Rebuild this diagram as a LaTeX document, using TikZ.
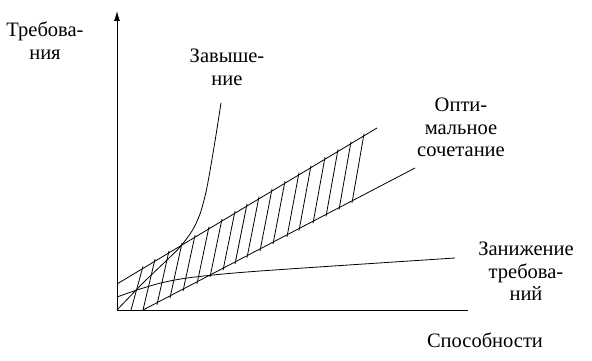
\documentclass[tikz,border=0pt]{standalone}
\usepackage{fontspec}
\setmainfont{Liberation Serif}
\newfontfamily\lserif{Liberation Serif}
\usetikzlibrary{arrows.meta}
\begin{document}
\begin{tikzpicture}[x=1pt,y=-1pt,
  curve/.style={line width=0.8pt, black},
  lbl/.style={font=\lserif\fontsize{20.5}{22.5}\selectfont, align=center, inner sep=0pt},
]
\useasboundingbox[fill=white] (0,0) rectangle (592,361);
\coordinate (O) at (117,310);
\coordinate (Ytop) at (117,11);
\coordinate (Xend) at (468,310);
\draw[curve,-{Latex[length=10pt,width=6pt]}] (O) -- (Ytop);
\draw[curve] (O) -- (Xend);
% band boundaries
\coordinate (U1) at (117,284); \coordinate (U2) at (377,128);
\draw[curve] (U1) -- (U2);
\coordinate (L1) at (143,310); \coordinate (L2) at (415,168);
\draw[curve] (L1) -- (L2);
% overstated requirements
\draw[curve] plot[smooth] coordinates {(117,310) (143,283) (167,260) (180,247) (192,231) (200,214) (206,192) (211,165) (216,135) (221,103)};
% understated requirements
\draw[curve] plot[smooth] coordinates {(117,297) (140,289) (165,282) (195,277) (260,271) (455,258)};
% hatching
\foreach \b in {131,143,157,170,183,197,210,223,235,247,260,273,287,299,313,326,339,352} {
  \pgfmathsetmacro\yb{min(310,312-0.522*(\b-143))}
  \pgfmathsetmacro\xt{\b+12}
  \pgfmathsetmacro\yt{282-0.6*(\xt-117)}
  \draw[curve] (\b,\yb) -- (\xt,\yt);
}
\node[lbl, anchor=north] (treb) at (45,22) {Требова-\\ния};
\node[lbl, anchor=north] (zav) at (227,49) {Завыше-\\ние};
\node[lbl, anchor=north] (opt) at (461,98) {Опти-\\мальное\\сочетание};
\node[lbl, anchor=north] (zan) at (526,242) {Занижение\\требова-\\ний};
\node[lbl, anchor=base] (spos) at (485,347) {Способности};
\end{tikzpicture}
\end{document}
